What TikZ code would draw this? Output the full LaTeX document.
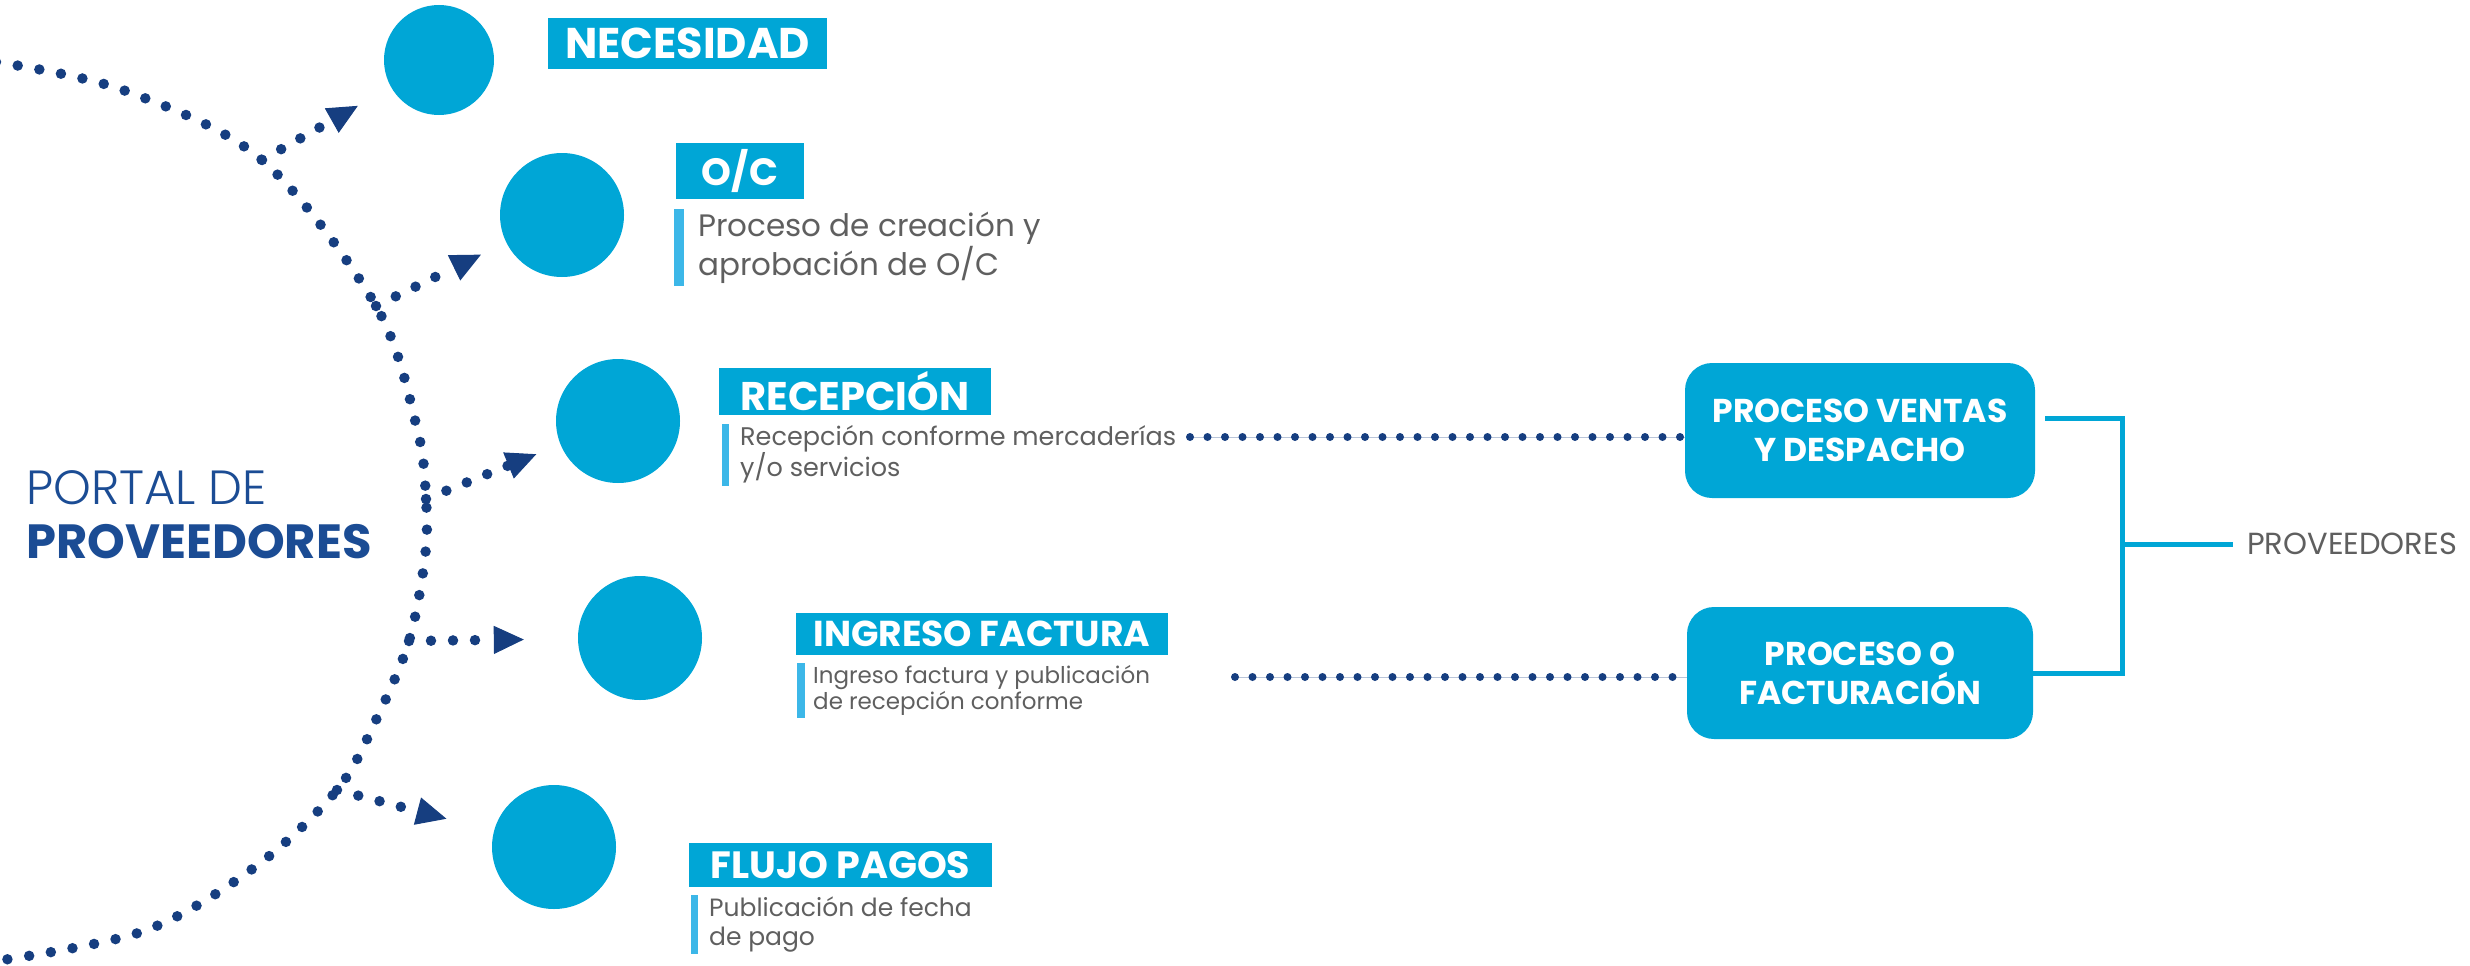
\documentclass[tikz,border=0pt]{standalone}
\usepackage{fontspec}
\setmainfont{Poppins}
\newfontfamily\lightfont{Poppins Light}
\usepackage{tikz}
\usetikzlibrary{arrows.meta,calc}

\definecolor{cyanb}{RGB}{0,166,214}
\definecolor{barb}{RGB}{60,183,232}
\definecolor{navy}{RGB}{22,62,128}
\definecolor{navytxt}{RGB}{27,76,148}
\definecolor{greytxt}{RGB}{95,95,95}

\tikzset{
  dotpath/.style={navy, line width=10.5pt, line cap=round, dash pattern=on 0pt off 22pt},
  branch/.style={dotpath, -{Triangle[length=30pt,width=28pt,line width=1pt]}},
  hdots/.style={navy, line width=8pt, line cap=round, dash pattern=on 0pt off 17.5pt,
    preaction={draw, navy!30, line width=1pt, solid}},
  stage/.style={circle, fill=cyanb, inner sep=0pt, minimum size=124pt},
  tag/.style={fill=cyanb, text=white, inner sep=0pt, font=\bfseries\fontsize{#1}{#1}\selectfont},
  desc/.style={anchor=north west, inner sep=0pt, align=left, text=greytxt},
  proc/.style={fill=cyanb, text=white, rounded corners=27pt, align=center, inner sep=0pt,
    font=\bfseries\fontsize{33}{39}\selectfont},
  link/.style={cyanb, line width=5pt}
}

\begin{document}
\begin{tikzpicture}[x=1pt, y=-1pt]
\useasboundingbox (0,0) rectangle (2470,966);

\node[anchor=west, inner sep=0pt, align=left, text=navytxt, font=\fontsize{48}{54}\selectfont]
  (portal) at (26,515) {{\lightfont PORTAL DE}\\\textbf{PROVEEDORES}};

\node[stage, minimum size=110pt] (nec) at (439,60) {};
\node[stage] (oc) at (562,215) {};
\node[stage] (rec) at (618,421) {};
\node[stage] (ing) at (640,638) {};
\node[stage] (flu) at (554,847) {};

\node[tag=43, minimum width=279pt, minimum height=51pt] (necTag) at (687.5,43.5) {NECESIDAD};
\node[tag=38, minimum width=128pt, minimum height=56pt] (ocTag) at (740,171) {O/C};
\node[tag=40, minimum width=272pt, minimum height=47pt] (recTag) at (855,391.5) {RECEPCIÓN};
\node[tag=36, minimum width=372pt, minimum height=42pt] (ingTag) at (982,634) {INGRESO FACTURA};
\node[tag=38, minimum width=303pt, minimum height=44pt] (fluTag) at (840.5,865) {FLUJO PAGOS};

\fill[barb] (674,209) rectangle (684,286);
\fill[barb] (722,424) rectangle (729,486);
\fill[barb] (797,663) rectangle (805,718);
\fill[barb] (691,895) rectangle (698,954);

\node[desc, font=\fontsize{31}{39}\selectfont] (ocDesc) at (698,212) {Proceso de creación y\\aprobación de O/C};
\node[desc, font=\fontsize{25.5}{27}\selectfont] (recDesc) at (740,425) {Recepción conforme mercaderías\\y/o servicios};
\node[desc, font=\fontsize{23}{26}\selectfont] (ingDesc) at (813,665) {Ingreso factura y publicación\\de recepción conforme};
\node[desc, font=\fontsize{25}{29}\selectfont] (fluDesc) at (709,897) {Publicación de fecha\\de pago};

\node[proc, minimum width=350pt, minimum height=135pt] (ventas) at (1860,430.5) {PROCESO VENTAS\\Y DESPACHO};
\node[proc, minimum width=346pt, minimum height=132pt] (fact) at (1860,673) {PROCESO O\\FACTURACIÓN};
\node[anchor=west, inner xsep=14pt, inner ysep=0pt, text=greytxt, font=\fontsize{30.5}{30.5}\selectfont]
  (provR) at (2233,544) {PROVEEDORES};

\coordinate (top) at (-4,62);
\coordinate (j1) at (262,160);
\coordinate (j2) at (376,306);
\coordinate (j3) at (426,499);
\coordinate (j4) at (409,641);
\coordinate (j5) at (337,790);
\coordinate (bot) at (-4,961);
\draw[dotpath] plot[smooth, tension=0.55] coordinates {(top) (123,90) (j1) (j2) (417,428) (j3) (425,557) (j4) (376,720) (j5) (255,867) (144,931) (bot)};

\draw[branch, shorten >=38pt] (j1) -- (nec);
\draw[branch, shorten >=28pt] (j2) -- (oc);
\draw[branch, shorten >=26pt] (j3) -- (rec);
\draw[branch, shorten >=54pt] (j4) -- (ing);
\draw[branch, shorten >=49pt] (j5) -- (flu);

\coordinate (recOut) at (1190,437);
\coordinate (ingOut) at (1235,677);
\draw[hdots] (recOut) -- (recOut -| ventas.west);
\draw[hdots] (ingOut) -- (ingOut -| fact.west);

\coordinate (hub) at (2122,544);
\draw[link] ([xshift=10pt,yshift=12pt]ventas.east) -| (hub) |- (fact.east);
\draw[link] (hub) -- (provR.west);
\end{tikzpicture}
\end{document}
